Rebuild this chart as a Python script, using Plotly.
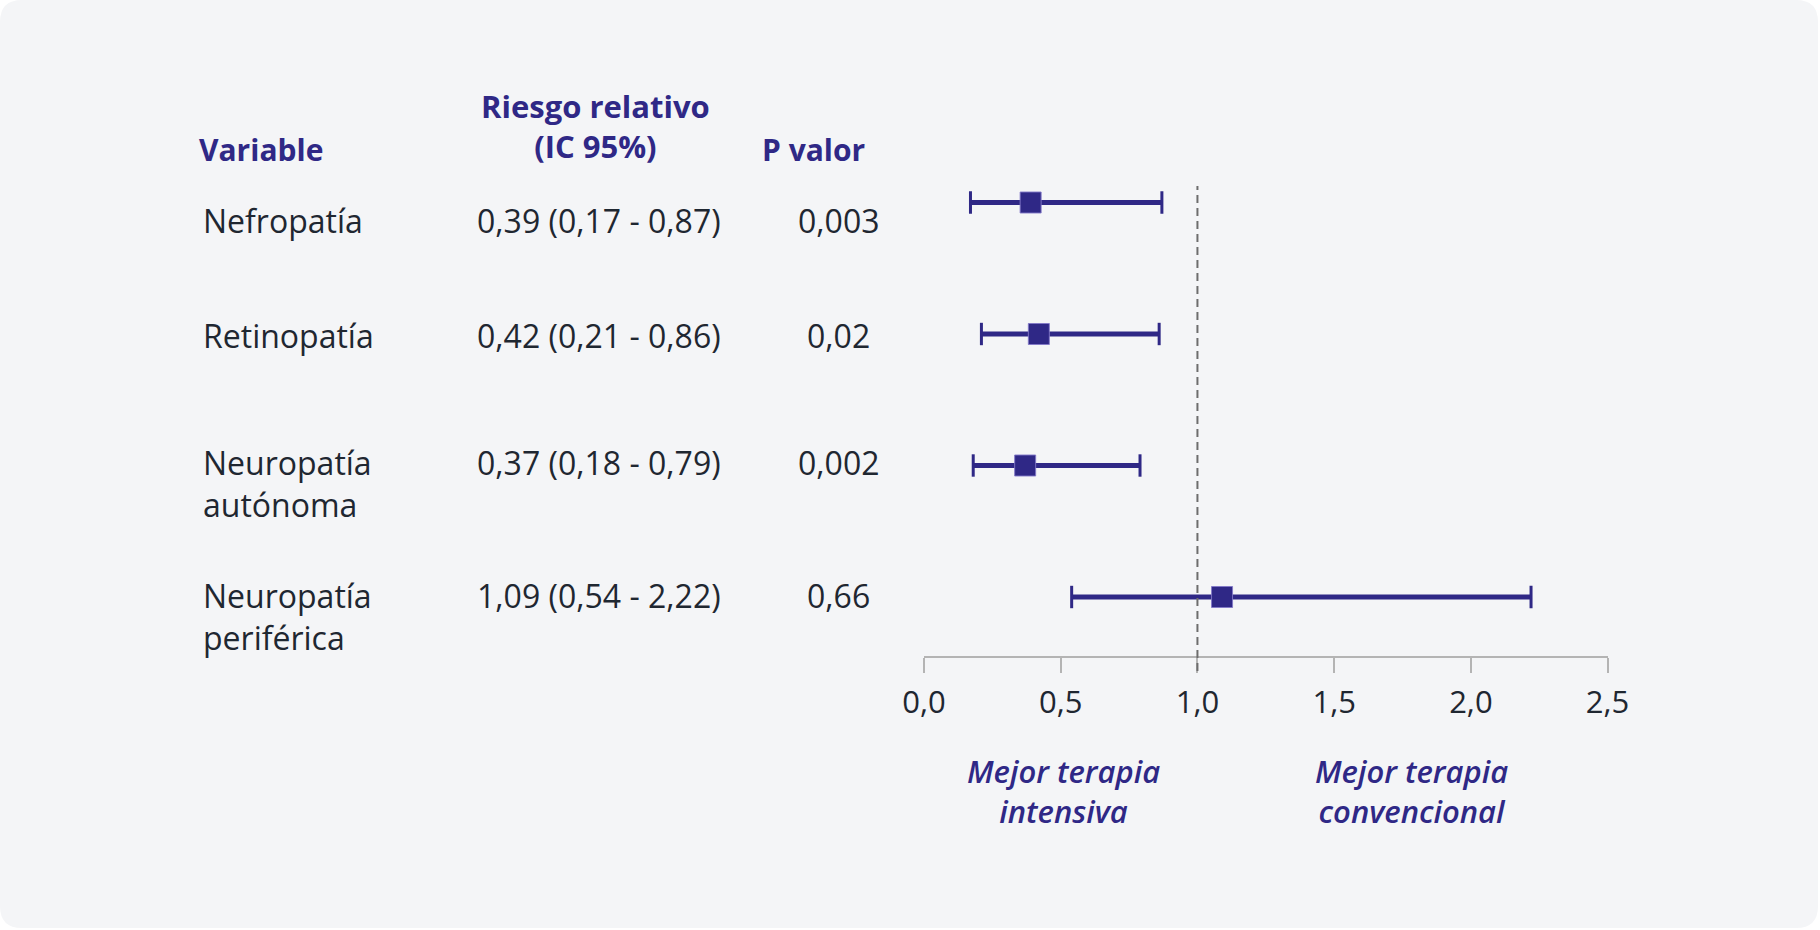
import plotly.graph_objects as go

# ---------------- data ----------------
variables = ["Nefropatía", "Retinopatía", "Neuropatía<br>autónoma", "Neuropatía<br>periférica"]
rr = [0.39, 0.42, 0.37, 1.09]
ci_low = [0.17, 0.21, 0.18, 0.54]
ci_high = [0.87, 0.86, 0.79, 2.22]
p_values = ["0,003", "0,02", "0,002", "0,66"]
tick_vals = [0.0, 0.5, 1.0, 1.5, 2.0, 2.5]
tick_text = ["0,0", "0,5", "1,0", "1,5", "2,0", "2,5"]
reference_value = 1.0
header_variable = "Variable"
header_rr = "Riesgo relativo<br>(IC 95%)"
header_p = "P valor"
label_left = "Mejor terapia<br>intensiva"
label_right = "Mejor terapia<br>convencional"

# ---------------- style / layout ----------------
W, H = 1820, 930
PURPLE = "#2f2886"
DARK = "#1f2731"
GRAY_AXIS = "#b4b4b4"
GRAY_DASH = "#6d6d6d"
CARD = "#f4f5f7"
FONT = "Open Sans"

def px_x(px):
    return px / W

def px_y(py):
    return 1 - py / H

X0_PX, X1_PX = 924, 1607.6
AXIS_PX = 656
TOP_PX = 186
ROW0_PX, ROW_STEP = 202.5, 131.5
y_bottom = (AXIS_PX - ROW0_PX) / ROW_STEP
y_top = (TOP_PX - ROW0_PX) / ROW_STEP

rows = list(range(len(variables)))
row_text_px = [220, 335.5, 463, 595.5]
LINE_H = 41.6

fig = go.Figure()

for i in rows:
    fig.add_trace(go.Scatter(
        x=[ci_low[i], ci_high[i]], y=[i, i],
        mode="lines+markers",
        line=dict(color=PURPLE, width=5),
        marker=dict(symbol="line-ns", size=16, line=dict(color=PURPLE, width=3)),
        hoverinfo="skip", showlegend=False,
    ))

fig.add_trace(go.Scatter(
    x=rr, y=rows, mode="markers",
    marker=dict(symbol="square", size=21, color=PURPLE,
                line=dict(color="rgba(130,120,200,0.9)", width=1)),
    showlegend=False,
))

shapes = []
# rounded card background
r = 22
x0c, y0c, x1c, y1c = 0, 0, 1818, 928
rx, ry = r / W, r / H
L, R, T, B = px_x(x0c), px_x(x1c), px_y(y0c), px_y(y1c)
path = (f"M {L+rx},{T} L {R-rx},{T} Q {R},{T} {R},{T-ry} "
        f"L {R},{B+ry} Q {R},{B} {R-rx},{B} L {L+rx},{B} Q {L},{B} {L},{B+ry} "
        f"L {L},{T-ry} Q {L},{T} {L+rx},{T} Z")
shapes.append(dict(type="path", path=path, xref="paper", yref="paper",
                   fillcolor=CARD, line=dict(width=0), layer="below"))
shapes.append(dict(type="line", xref="x", yref="paper",
                   x0=reference_value, x1=reference_value,
                   y0=px_y(671), y1=px_y(TOP_PX),
                   line=dict(color=GRAY_DASH, width=2, dash="8px,5px"), layer="above"))

annotations = []
head_font = dict(family=FONT, size=30, color=PURPLE, weight=700)
head_font_rr = dict(family=FONT, size=31, color=PURPLE, weight=700)
body_font = dict(family=FONT, size=32, color=DARK)

annotations.append(dict(text=header_variable, x=px_x(197), y=px_y(150), xref="paper", yref="paper",
                        xanchor="left", yanchor="middle", showarrow=False, font=head_font))
annotations.append(dict(text=header_rr, x=px_x(595), y=px_y(126.5), xref="paper", yref="paper",
                        xanchor="center", yanchor="middle", showarrow=False, font=head_font_rr, align="center"))
annotations.append(dict(text=header_p, x=px_x(813), y=px_y(150), xref="paper", yref="paper",
                        xanchor="center", yanchor="middle", showarrow=False, font=head_font))

def fmt(v):
    return f"{v:.2f}".replace(".", ",")

for i in rows:
    nlines = variables[i].count("<br>") + 1
    cy = row_text_px[i] + (nlines - 1) * LINE_H / 2
    annotations.append(dict(text=variables[i], x=px_x(201), y=px_y(cy), xref="paper", yref="paper",
                            xanchor="left", yanchor="middle", showarrow=False, font=body_font, align="left"))
    annotations.append(dict(text=f"{fmt(rr[i])} ({fmt(ci_low[i])} - {fmt(ci_high[i])})",
                            x=px_x(598.5), y=px_y(row_text_px[i]), xref="paper", yref="paper",
                            xanchor="center", yanchor="middle", showarrow=False, font=body_font))
    annotations.append(dict(text=p_values[i], x=px_x(838.5), y=px_y(row_text_px[i]), xref="paper", yref="paper",
                            xanchor="center", yanchor="middle", showarrow=False, font=body_font))

ital_font = dict(family=FONT, size=31, color=PURPLE, weight=600, style="italic")
for label, cx in ((label_left, 1063), (label_right, 1411.5)):
    annotations.append(dict(text=label, x=px_x(cx), y=px_y(791), xref="paper", yref="paper",
                            xanchor="center", yanchor="middle", showarrow=False, font=ital_font,
                            align="center"))

fig.update_layout(
    autosize=True,
    margin=dict(l=0, r=0, t=0, b=0, pad=0, autoexpand=False),
    paper_bgcolor="white", plot_bgcolor="rgba(0,0,0,0)",
    shapes=shapes, annotations=annotations,
    showlegend=False,
    xaxis=dict(domain=[px_x(X0_PX), px_x(X1_PX)], range=[tick_vals[0], tick_vals[-1]],
               tickvals=tick_vals, ticktext=tick_text,
               showline=True, linecolor=GRAY_AXIS, linewidth=2,
               ticks="outside", ticklen=15, tickwidth=2, tickcolor=GRAY_AXIS,
               showgrid=False, zeroline=False, fixedrange=True, automargin=False,
               tickfont=dict(family=FONT, size=31, color=DARK),
               ticklabelstandoff=3),
    yaxis=dict(domain=[px_y(AXIS_PX), px_y(TOP_PX)], range=[y_bottom, y_top],
               visible=False, fixedrange=True, automargin=False),
)

fig.write_html("out.html", config={"displayModeBar": False, "responsive": True},
               default_width="100vw", default_height="100vh",
               post_script="document.body.style.margin='0';document.body.style.overflow='hidden';")
